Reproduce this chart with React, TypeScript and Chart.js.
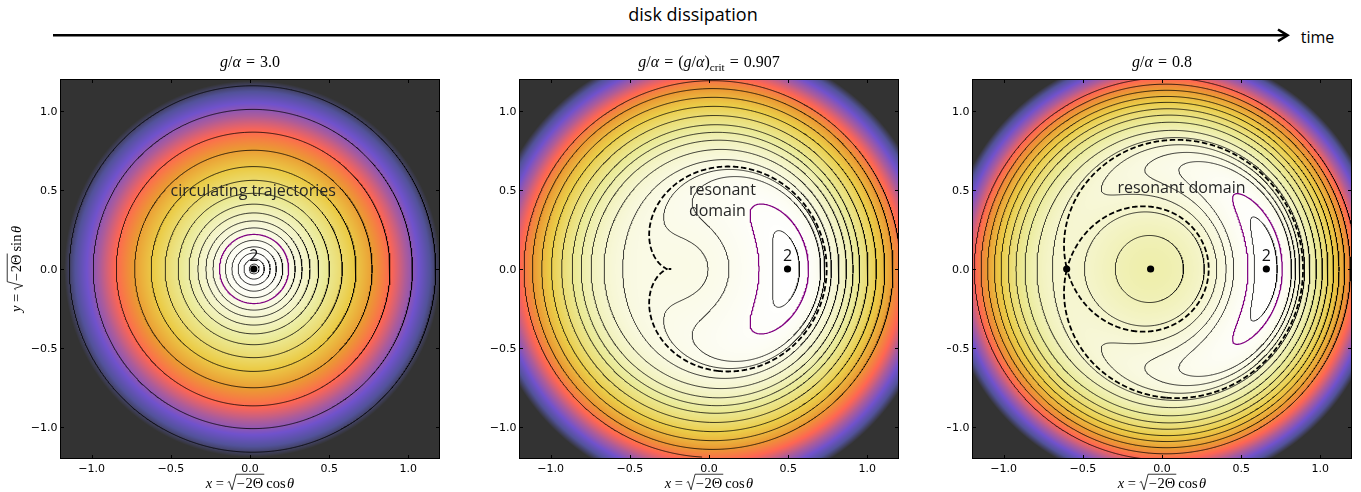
import React, { useEffect, useRef } from 'react';
import { Chart, registerables } from 'chart.js';

Chart.register(...registerables);

// ------------------------------------------------------------------
// Values
// ------------------------------------------------------------------
const PANEL_G_OVER_ALPHA = [3.0, 0.907, 0.8]; // panel titles
const INCLINATION_DEG = 1.0; // gives (g/alpha)_crit = 0.907
const X_TICKS = [-1.0, -0.5, 0.0, 0.5, 1.0];
const Y_TICKS = [-1.0, -0.5, 0.0, 0.5, 1.0];
const AXIS_MIN = -1.2;
const AXIS_MAX = 1.2;

// x where each solid black trajectory (one per level) crosses the line y = 0
const P1_TRAJECTORY_X = [0.057, 0.09, 0.127, 0.166, 0.207, 0.285, 0.329, 0.379, 0.434, 0.502, 0.583, 0.669, 0.771, 0.884, 1.026, 1.173];
const P2_TRAJECTORY_X = [-0.006, 0.126, 0.404, 0.773, 0.821, 0.868, 0.91, 0.952, 1.004, 1.057, 1.11, 1.162, -1.168];
const P3_TRAJECTORY_X = [-0.295, -0.49, 0.346, 0.405, 0.453, 0.585, 0.975, 1.013, 1.048, 1.084, 1.118, 1.154, 1.19, -1.185];
// purple trajectory and dashed separatrix crossings of y = 0
const PURPLE_TRAJECTORY_X = [0.244, 0.316, 0.543];
const SEPARATRIX_X = [NaN, -0.242, -0.602];
// fixed points (dots) on y = 0
const P1_FIXED_X = [0.024];
const P2_FIXED_X = [0.496];
const P3_FIXED_X = [-0.602, -0.072, 0.659];
const STATE2_X = [0.024, 0.496, 0.659];
// lower end of the colour scale (value shown as the darkest colour)
const COLOR_FLOOR = [-13.3, -3.29, -2.07];

const TRAJECTORY_X = [P1_TRAJECTORY_X, P2_TRAJECTORY_X, P3_TRAJECTORY_X];
const FIXED_X = [P1_FIXED_X, P2_FIXED_X, P3_FIXED_X];

// CMRmap colour table
const CMR_R = [0, 0.15, 0.3, 0.6, 1.0, 0.9, 0.9, 0.9, 1.0];
const CMR_G = [0, 0.15, 0.15, 0.2, 0.25, 0.5, 0.75, 0.9, 1.0];
const CMR_B = [0, 0.5, 0.75, 0.5, 0.15, 0.0, 0.1, 0.5, 1.0];
const IMAGE_ALPHA = 0.8;

// ------------------------------------------------------------------
// Layout / style
// ------------------------------------------------------------------
const CANVAS_H = 492;
const PLOT_TOP = 79;
const PLOT_SIZE = 380;
const Y_AXIS_W = 20;
const X_AXIS_H = 20;
const LAYOUT = [
  { canvasLeft: 0, canvasWidth: 480, plotLeft: 60 },
  { canvasLeft: 480, canvasWidth: 460, plotLeft: 519 },
  { canvasLeft: 947, canvasWidth: 414, plotLeft: 972 },
];
const SANS = '"Open Sans", "DejaVu Sans", sans-serif';
const SERIF = '"Liberation Serif", "DejaVu Serif", serif';
const TICK_FONT = '11px "DejaVu Sans", sans-serif';

type Run = { s: string; f?: string; gap?: number; rad?: boolean; ov?: boolean };

const TITLES: Run[][] = [
  [{ s: 'g', f: 'it' }, { s: '/' }, { s: '\u03b1', f: 'it', gap: 5 }, { s: '=', gap: 5 }, { s: '3.0' }],
  [
    { s: 'g', f: 'it' }, { s: '/' }, { s: '\u03b1', f: 'it', gap: 5 }, { s: '=', gap: 5 },
    { s: '(' }, { s: 'g', f: 'it' }, { s: '/' }, { s: '\u03b1', f: 'it' }, { s: ')' }, { s: 'crit', f: 'sub', gap: 5 },
    { s: '=', gap: 5 }, { s: '0.907' },
  ],
  [{ s: 'g', f: 'it' }, { s: '/' }, { s: '\u03b1', f: 'it', gap: 5 }, { s: '=', gap: 5 }, { s: '0.8' }],
];
const X_LABEL: Run[] = [
  { s: 'x', f: 'it', gap: 3.5 }, { s: '=', gap: 3.5 }, { s: '', rad: true },
  { s: '\u2212', ov: true, gap: 1 }, { s: '2\u0398', ov: true, gap: 3 }, { s: 'cos', gap: 1.5 }, { s: '\u03b8', f: 'it' },
];
const Y_LABEL: Run[] = [
  { s: 'y', f: 'it', gap: 3.5 }, { s: '=', gap: 3.5 }, { s: '', rad: true },
  { s: '\u2212', ov: true, gap: 1 }, { s: '2\u0398', ov: true, gap: 3 }, { s: 'sin', gap: 1.5 }, { s: '\u03b8', f: 'it' },
];
const NOTES = [
  [{ text: 'circulating trajectories', x: 0.02, y: 0.46, align: 'center' }],
  [
    { text: 'resonant', x: -0.127, y: 0.469, align: 'left' },
    { text: 'domain', x: -0.127, y: 0.332, align: 'left' },
  ],
  [{ text: 'resonant domain', x: 0.123, y: 0.48, align: 'center' }],
];

// ------------------------------------------------------------------
// Colombo's top Hamiltonian in x = sqrt(-2Θ)cosθ, y = sqrt(-2Θ)sinθ
// ------------------------------------------------------------------
const INC = (INCLINATION_DEG * Math.PI) / 180;
function hamiltonian(x: number, y: number, g: number): number {
  const r2 = x * x + y * y;
  const a = 4 * (1 - g * Math.cos(INC));
  const c = 8 * g * Math.sin(INC);
  return -r2 * r2 + a * r2 + c * x * Math.sqrt(Math.max(0, 1 - r2 / 4));
}

type Pt = { x: number; y: number };
type Grid = { n: number; xs: Float64Array; v: Float64Array };

function makeGrid(g: number): Grid {
  const n = 401;
  const lo = -1.25;
  const hi = 1.25;
  const xs = new Float64Array(n);
  for (let i = 0; i < n; i++) xs[i] = lo + ((hi - lo) * i) / (n - 1);
  const v = new Float64Array(n * n);
  for (let j = 0; j < n; j++) for (let i = 0; i < n; i++) v[j * n + i] = hamiltonian(xs[i], xs[j], g);
  return { n, xs, v };
}

function traceLevel(grid: Grid, level: number): Pt[][] {
  const { n, xs, v } = grid;
  const NN = n * n;
  const pos = new Map<number, Pt>();
  const sa: number[] = [];
  const sb: number[] = [];
  const pt = (id: number) => {
    if (pos.has(id)) return;
    if (id < NN) {
      const j = Math.floor(id / n);
      const i = id - j * n;
      const t = (level - v[id]) / (v[id + 1] - v[id]);
      pos.set(id, { x: xs[i] + t * (xs[i + 1] - xs[i]), y: xs[j] });
    } else {
      const k = id - NN;
      const j = Math.floor(k / n);
      const i = k - j * n;
      const t = (level - v[k]) / (v[k + n] - v[k]);
      pos.set(id, { x: xs[i], y: xs[j] + t * (xs[j + 1] - xs[j]) });
    }
  };
  const seg = (p: number, q: number) => {
    pt(p);
    pt(q);
    sa.push(p);
    sb.push(q);
  };
  for (let j = 0; j < n - 1; j++) {
    for (let i = 0; i < n - 1; i++) {
      const a = v[j * n + i];
      const b = v[j * n + i + 1];
      const c = v[(j + 1) * n + i + 1];
      const d = v[(j + 1) * n + i];
      let k = 0;
      if (a > level) k |= 1;
      if (b > level) k |= 2;
      if (c > level) k |= 4;
      if (d > level) k |= 8;
      if (k === 0 || k === 15) continue;
      const e0 = j * n + i;
      const e2 = (j + 1) * n + i;
      const e3 = NN + j * n + i;
      const e1 = NN + j * n + i + 1;
      const mid = (a + b + c + d) / 4 > level;
      switch (k) {
        case 1: case 14: seg(e3, e0); break;
        case 2: case 13: seg(e0, e1); break;
        case 3: case 12: seg(e3, e1); break;
        case 4: case 11: seg(e1, e2); break;
        case 6: case 9: seg(e0, e2); break;
        case 7: case 8: seg(e3, e2); break;
        case 5:
          if (mid) { seg(e0, e1); seg(e2, e3); } else { seg(e3, e0); seg(e1, e2); }
          break;
        case 10:
          if (mid) { seg(e3, e0); seg(e1, e2); } else { seg(e0, e1); seg(e2, e3); }
          break;
      }
    }
  }
  const adj = new Map<number, number[]>();
  const push = (id: number, s: number) => {
    const l = adj.get(id);
    if (l) l.push(s);
    else adj.set(id, [s]);
  };
  for (let s = 0; s < sa.length; s++) {
    push(sa[s], s);
    push(sb[s], s);
  }
  const used = new Uint8Array(sa.length);
  const walk = (start: number, first: number): Pt[] => {
    const path: number[] = [start];
    let cur = start;
    let s = first;
    while (s >= 0) {
      used[s] = 1;
      const nxt = sa[s] === cur ? sb[s] : sa[s];
      path.push(nxt);
      cur = nxt;
      s = -1;
      const l = adj.get(cur) || [];
      for (const c of l) if (!used[c]) { s = c; break; }
    }
    return path.map((id) => pos.get(id) as Pt);
  };
  const lines: Pt[][] = [];
  adj.forEach((l, id) => {
    if (l.length === 1 && !used[l[0]]) lines.push(walk(id, l[0]));
  });
  for (let s = 0; s < sa.length; s++) if (!used[s]) lines.push(walk(sa[s], s));
  return lines;
}

function cmr(t: number): number[] {
  const u = Math.min(1, Math.max(0, t)) * 8;
  const k = Math.min(7, Math.floor(u));
  const f = u - k;
  return [
    CMR_R[k] + (CMR_R[k + 1] - CMR_R[k]) * f,
    CMR_G[k] + (CMR_G[k + 1] - CMR_G[k]) * f,
    CMR_B[k] + (CMR_B[k + 1] - CMR_B[k]) * f,
  ];
}

function runFont(r: Run, size: number): string {
  if (r.f === 'it') return `italic ${size}px ${SERIF}`;
  if (r.f === 'sub') return `${size * 0.7}px ${SERIF}`;
  return `${size}px ${SERIF}`;
}

function drawMath(ctx: CanvasRenderingContext2D, runs: Run[], size: number, cx: number, baseline: number) {
  const widths = runs.map((r) => {
    if (r.rad) return size * 0.62;
    ctx.font = runFont(r, size);
    return ctx.measureText(r.s).width;
  });
  const total = widths.reduce((acc, w, i) => acc + w + (runs[i].gap || 0), 0);
  let x = cx - total / 2;
  let radX = NaN;
  let ovEnd = NaN;
  ctx.textAlign = 'left';
  ctx.textBaseline = 'alphabetic';
  ctx.fillStyle = '#000';
  runs.forEach((r, i) => {
    if (r.rad) {
      radX = x;
    } else {
      ctx.font = runFont(r, size);
      ctx.fillText(r.s, x, baseline + (r.f === 'sub' ? size * 0.25 : 0));
      if (r.ov) ovEnd = x + widths[i];
    }
    x += widths[i] + (r.gap || 0);
  });
  if (!isNaN(radX)) {
    const top = baseline - size * 0.95;
    ctx.save();
    ctx.strokeStyle = '#000';
    ctx.lineWidth = 0.8;
    ctx.lineJoin = 'miter';
    ctx.beginPath();
    ctx.moveTo(radX + size * 0.02, baseline - size * 0.38);
    ctx.lineTo(radX + size * 0.13, baseline - size * 0.45);
    ctx.lineTo(radX + size * 0.32, baseline + size * 0.12);
    ctx.lineTo(radX + size * 0.6, top);
    ctx.lineTo(ovEnd + 1, top);
    ctx.stroke();
    ctx.restore();
  }
}

function tickText(v: number): string {
  if (Math.abs(v) < 1e-9) return '0.0';
  return (v < 0 ? '\u2212' : '') + Math.abs(v).toFixed(1);
}

function buildConfig(index: number): any {
  const g = PANEL_G_OVER_ALPHA[index];
  const L = LAYOUT[index];
  const grid = makeGrid(g);
  const vmax = hamiltonian(STATE2_X[index], 0, g);
  const vmin = COLOR_FLOOR[index];

  const lineSets = (xs: number[], color: string, width: number, dash: number[], order: number) => {
    const out: any[] = [];
    xs.forEach((x0) => {
      if (!isFinite(x0)) return;
      const level = hamiltonian(x0, 0, g);
      traceLevel(grid, level).forEach((line) => {
        if (line.length < 2) return;
        out.push({
          data: line,
          showLine: true,
          pointRadius: 0,
          pointHoverRadius: 0,
          borderColor: color,
          borderWidth: width,
          borderDash: dash,
          borderJoinStyle: 'round',
          borderCapStyle: 'butt',
          fill: false,
          tension: 0,
          order,
        });
      });
    });
    return out;
  };

  const datasets: any[] = [
    {
      data: FIXED_X[index].map((x) => ({ x, y: 0 })),
      showLine: false,
      pointRadius: 3.6,
      pointBackgroundColor: '#000',
      pointBorderWidth: 0,
      order: 0,
    },
    ...lineSets([SEPARATRIX_X[index]], '#000', 1.8, [5.5, 2.6], 1),
    ...lineSets([PURPLE_TRAJECTORY_X[index]], '#800080', 1.2, [], 2),
    ...lineSets(TRAJECTORY_X[index], 'rgba(0,0,0,0.85)', 0.9, [], 3),
  ];

  const plotLeftRel = L.plotLeft - L.canvasLeft;

  const heatmap = {
    id: 'heatmap',
    beforeDatasetsDraw(chart: any) {
      const { ctx, chartArea: ca, scales } = chart;
      const w = Math.round(ca.right - ca.left);
      const h = Math.round(ca.bottom - ca.top);
      const off = document.createElement('canvas');
      off.width = w;
      off.height = h;
      const octx = off.getContext('2d') as CanvasRenderingContext2D;
      const img = octx.createImageData(w, h);
      const xv: number[] = [];
      const yv: number[] = [];
      for (let i = 0; i < w; i++) xv.push(scales.x.getValueForPixel(ca.left + i + 0.5));
      for (let j = 0; j < h; j++) yv.push(scales.y.getValueForPixel(ca.top + j + 0.5));
      for (let j = 0; j < h; j++) {
        for (let i = 0; i < w; i++) {
          const val = hamiltonian(xv[i], yv[j], g);
          const c = cmr((val - vmin) / (vmax - vmin));
          const p = (j * w + i) * 4;
          img.data[p] = Math.round(255 * (IMAGE_ALPHA * c[0] + 1 - IMAGE_ALPHA));
          img.data[p + 1] = Math.round(255 * (IMAGE_ALPHA * c[1] + 1 - IMAGE_ALPHA));
          img.data[p + 2] = Math.round(255 * (IMAGE_ALPHA * c[2] + 1 - IMAGE_ALPHA));
          img.data[p + 3] = 255;
        }
      }
      octx.putImageData(img, 0, 0);
      ctx.drawImage(off, ca.left, ca.top);
    },
  };

  const overlay = {
    id: 'overlay',
    afterDatasetsDraw(chart: any) {
      const { ctx, chartArea: ca, scales } = chart;
      ctx.save();
      // annotations
      ctx.fillStyle = '#262626';
      ctx.font = `16px ${SANS}`;
      ctx.textBaseline = 'alphabetic';
      NOTES[index].forEach((n: any) => {
        ctx.textAlign = n.align;
        ctx.fillText(n.text, scales.x.getPixelForValue(n.x), scales.y.getPixelForValue(n.y));
      });
      ctx.fillStyle = '#111';
      ctx.textAlign = 'center';
      ctx.fillText('2', scales.x.getPixelForValue(STATE2_X[index]), scales.y.getPixelForValue(0) - 8.5);
      // frame
      ctx.strokeStyle = '#000';
      ctx.lineWidth = 1;
      ctx.strokeRect(ca.left + 0.5, ca.top + 0.5, ca.right - ca.left - 1, ca.bottom - ca.top - 1);
      // inward ticks on all sides
      ctx.beginPath();
      X_TICKS.forEach((v) => {
        const px = Math.round(scales.x.getPixelForValue(v)) + 0.5;
        ctx.moveTo(px, ca.bottom);
        ctx.lineTo(px, ca.bottom - 4);
        ctx.moveTo(px, ca.top);
        ctx.lineTo(px, ca.top + 4);
      });
      Y_TICKS.forEach((v) => {
        const py = Math.round(scales.y.getPixelForValue(v)) + 0.5;
        ctx.moveTo(ca.left, py);
        ctx.lineTo(ca.left + 4, py);
        ctx.moveTo(ca.right, py);
        ctx.lineTo(ca.right - 4, py);
      });
      ctx.stroke();
      ctx.restore();
    },
    afterDraw(chart: any) {
      const { ctx, chartArea: ca, scales } = chart;
      ctx.save();
      ctx.fillStyle = '#000';
      ctx.font = TICK_FONT;
      ctx.textBaseline = 'alphabetic';
      ctx.textAlign = 'center';
      X_TICKS.forEach((v) => ctx.fillText(tickText(v), scales.x.getPixelForValue(v), ca.bottom + 13));
      ctx.textAlign = 'right';
      Y_TICKS.forEach((v) => ctx.fillText(tickText(v), ca.left - 2.5, scales.y.getPixelForValue(v) + 4));
      const cx = (ca.left + ca.right) / 2;
      drawMath(ctx, TITLES[index], 16, cx, PLOT_TOP - 12);
      drawMath(ctx, X_LABEL, 14.5, cx, CANVAS_H - 4);
      if (index === 0) {
        ctx.save();
        ctx.translate(21, (ca.top + ca.bottom) / 2);
        ctx.rotate(-Math.PI / 2);
        drawMath(ctx, Y_LABEL, 14.5, 0, 0);
        ctx.restore();
      }
      ctx.restore();
    },
  };

  return {
    type: 'scatter',
    data: { datasets },
    options: {
      responsive: false,
      maintainAspectRatio: false,
      animation: false,
      events: [],
      parsing: false,
      layout: {
        padding: {
          left: plotLeftRel - Y_AXIS_W,
          right: L.canvasWidth - (plotLeftRel + PLOT_SIZE),
          top: PLOT_TOP,
          bottom: CANVAS_H - PLOT_TOP - PLOT_SIZE - X_AXIS_H,
        },
      },
      scales: {
        x: {
          type: 'linear',
          min: AXIS_MIN,
          max: AXIS_MAX,
          ticks: { display: false },
          grid: { display: false, drawTicks: false },
          border: { display: false },
          afterFit: (s: any) => { s.height = X_AXIS_H; },
        },
        y: {
          type: 'linear',
          min: AXIS_MIN,
          max: AXIS_MAX,
          ticks: { display: false },
          grid: { display: false, drawTicks: false },
          border: { display: false },
          afterFit: (s: any) => { s.width = Y_AXIS_W; },
        },
      },
      plugins: {
        legend: { display: false },
        tooltip: { enabled: false },
        title: { display: false },
      },
    },
    plugins: [heatmap, overlay],
  };
}

function PhasePanel({ index }: { index: number }) {
  const ref = useRef<HTMLCanvasElement>(null);
  const L = LAYOUT[index];
  useEffect(() => {
    const chart = new Chart(ref.current as HTMLCanvasElement, buildConfig(index));
    return () => chart.destroy();
  }, [index]);
  return (
    <canvas
      ref={ref}
      width={L.canvasWidth}
      height={CANVAS_H}
      style={{ position: 'absolute', left: L.canvasLeft, top: 0, width: L.canvasWidth, height: CANVAS_H }}
    />
  );
}

export default function App() {
  return (
    <div style={{ position: 'absolute', left: 0, top: 0, width: 1361, height: 492, background: '#ffffff', overflow: 'hidden' }}>
      <svg width={1361} height={60} style={{ position: 'absolute', left: 0, top: 0 }}>
        <text x={693} y={21} textAnchor="middle" fontFamily={SANS} fontSize={18} fill="#000">
          disk dissipation
        </text>
        <line x1={53} y1={35.3} x2={1286} y2={35.3} stroke="#000" strokeWidth={2.6} />
        <polyline points="1278,29.5 1287.5,35.3 1278,41.1" fill="none" stroke="#000" strokeWidth={2.6} />
        <text x={1300.7} y={43} fontFamily={SANS} fontSize={16} fill="#000">
          time
        </text>
      </svg>
      {[0, 1, 2].map((i) => (
        <PhasePanel key={i} index={i} />
      ))}
    </div>
  );
}
